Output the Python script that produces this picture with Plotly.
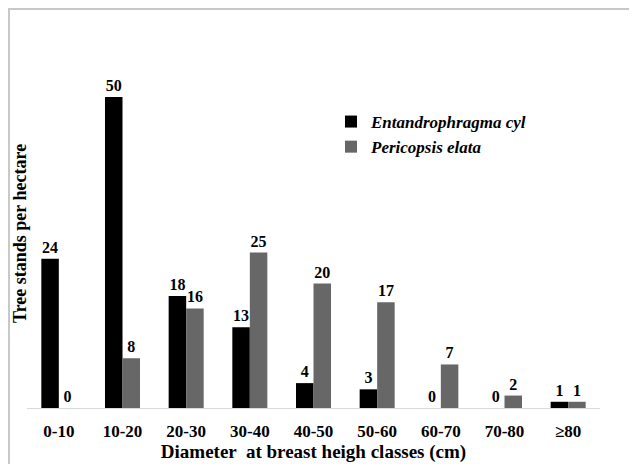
import plotly.graph_objects as go

categories = ["0-10", "10-20", "20-30", "30-40", "40-50", "50-60", "60-70", "70-80", "≥80"]
entandrophragma = [24, 50, 18, 13, 4, 3, 0, 0, 1]
pericopsis = [0, 8, 16, 25, 20, 17, 7, 2, 1]
series_names = ["Entandrophragma cyl", "Pericopsis elata"]

SERIF = "Liberation Serif"

OFF = 8
W, H = 637 - OFF, 464 - OFF
PL, PR, PT, PB = 27, 600, 30, 408
L, T = PL - OFF, PT - OFF
R = W - (PR - OFF)
B = H - (PB - OFF)
pw, ph = PR - PL, PB - PT

def px(xp):
    return (xp - PL) / pw

def py(yp):
    return (PB - yp) / ph

fig = go.Figure()
fig.add_trace(go.Bar(
    x=categories, y=entandrophragma, name="<b><i>" + series_names[0] + "</i></b>",
    marker=dict(color="#000000", line=dict(width=0)),
    text=entandrophragma, texttemplate="<b>%{text}</b>",
    textposition="outside", cliponaxis=False,
    textfont=dict(family=SERIF, size=16, color="#000000"),
))
fig.add_trace(go.Bar(
    x=categories, y=pericopsis, name="<b><i>" + series_names[1] + "</i></b>",
    marker=dict(color="#676767", line=dict(width=0)),
    text=pericopsis, texttemplate="<b>%{text}</b>",
    textposition="outside", cliponaxis=False,
    textfont=dict(family=SERIF, size=16, color="#000000"),
))

fig.update_layout(
    width=W, height=H,
    margin=dict(l=L, r=R, t=T, b=B, autoexpand=False),
    paper_bgcolor="white", plot_bgcolor="white",
    barmode="group", bargap=0.45, bargroupgap=0,
    font=dict(family=SERIF, color="#000000"),
    showlegend=True,
    legend=dict(
        x=px(331), y=py(104), xanchor="left", yanchor="top",
        font=dict(family=SERIF, size=17, color="#000000"),
        bgcolor="rgba(0,0,0,0)", itemwidth=30, tracegroupgap=0,
    ),
    xaxis=dict(
        showline=True, linecolor="#d9d9d9", linewidth=1,
        ticks="", showgrid=False, zeroline=False,
        tickmode="array", tickvals=categories,
        ticktext=["<b>" + c + "</b>" for c in categories],
        tickfont=dict(family=SERIF, size=17, color="#000000"),
        ticklabelstandoff=8,
        title=dict(text="<b>Diameter  at breast heigh classes (cm)</b>",
                   font=dict(family=SERIF, size=19, color="#000000"),
                   standoff=4),
    ),
    yaxis=dict(
        range=[0, (PB - PT) / 6.22],
        showline=False, showticklabels=False, ticks="", showgrid=False, zeroline=False,
    ),
    annotations=[dict(
        text="<b>Tree stands per hectare</b>", textangle=-90,
        xref="paper", yref="paper", x=px(20), y=py(234),
        xanchor="center", yanchor="middle", showarrow=False,
        font=dict(family=SERIF, size=18, color="#000000"),
    )],
    shapes=[dict(
        type="rect", xref="paper", yref="paper",
        x0=px(9), x1=px(660), y0=py(490), y1=py(9),
        line=dict(color="#c8c8c8", width=2), fillcolor="rgba(0,0,0,0)", layer="below",
    )],
)

fig.write_html("out.html")
